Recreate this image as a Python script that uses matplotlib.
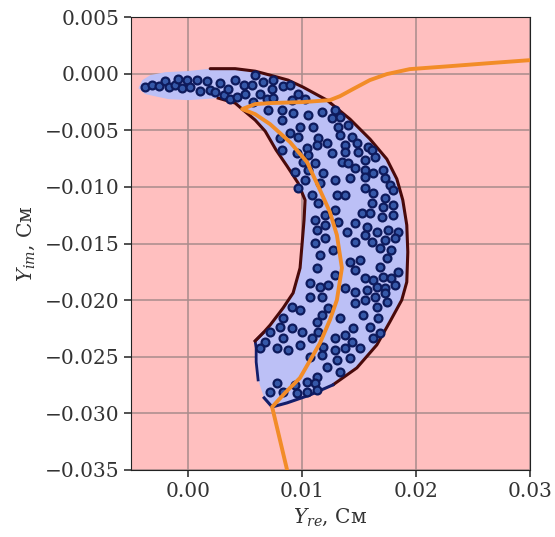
import numpy as np
import matplotlib
matplotlib.use("Agg")
import matplotlib.pyplot as plt
from matplotlib.ticker import FuncFormatter

plt.rcParams['font.family'] = ['DejaVu Serif']
plt.rcParams['mathtext.fontset'] = 'dejavuserif'

# ---- data (values in mS, i.e. 1e-3 См) ----
# crescent region: outer boundary, lower-left edge, inner boundary
outer_re = [-4.35, -4.0, -3.3, -1.99, 0.03, 1.95, 4.14, 5.89, 7.2, 8.78, 10.09, 12.19, 14.21,
            15.96, 17.44, 18.32, 18.84, 19.19, 19.28, 19.19, 18.75, 17.7, 16.56, 14.81, 12.71,
            10.7, 8.69, 7.38]
outer_im = [-1.27, -0.56, -0.12, 0.14, 0.24, 0.45, 0.45, 0.23, -0.12, -0.56, -1.18, -2.33, -4.01,
            -5.77, -7.54, -9.3, -11.16, -13.37, -15.75, -18.4, -19.99, -21.93, -23.96, -25.99,
            -27.49, -28.38, -29.08, -29.44]
left_re = [6.68, 6.15, 5.98, 5.98, 5.89, 6.59]
left_im = [-28.64, -27.05, -25.46, -24.23, -23.61, -22.9]
inner_re = [7.21, 8.34, 9.22, 9.83, 10.0, 10.18, 10.27, 9.66, 8.69, 7.73, 6.77, 5.89, 4.75, 4.14,
            2.65, 0.03, -1.72, -3.74]
inner_im = [-22.20, -20.70, -19.37, -17.16, -15.13, -12.92, -11.16, -9.66, -8.16, -6.74, -5.07,
            -4.09, -3.12, -2.59, -2.15, -2.33, -2.24, -1.80]

# orange locus
curve_re = [8.69, 7.38, 8.51, 9.82, 11.58, 12.45, 13.06, 13.5, 13.06, 12.45, 11.58, 10.44, 8.95,
            7.2, 5.89, 4.75, 5.89, 7.2, 10.09, 12.45, 13.33, 14.46, 15.95, 17.44, 19.45, 22.95,
            26.45, 29.95]
curve_im = [-35.0, -29.44, -28.2, -26.88, -23.79, -21.75, -19.99, -17.16, -14.25, -12.22, -10.28,
            -7.8, -6.04, -4.45, -3.57, -3.12, -2.68, -2.59, -2.5, -2.33, -1.98, -1.36, -0.56,
            -0.03, 0.41, 0.67, 0.94, 1.2]

# sample points
dot_re = [
    # tail
    -3.74, -3.15, -2.51, -2.05, -1.70, -1.17, -0.88, -0.53, -0.08, 0.20, 0.79, 1.08, 1.66, 1.95,
    2.39, 2.83, 3.12, 3.55, 3.71, 4.14, 4.29, 4.87, 5.01, 5.60, 5.74, 5.89, 6.33, 6.62, 6.91, 7.35,
    7.49, 8.32, 9.68, 8.95,
    # upper band
    7.49, 9.10, 10.27, 7.06, 8.23, 9.24, 10.56, 11.73, 12.89, 8.23, 12.60, 13.33, 9.83, 10.99,
    13.18, 14.06, 8.95, 9.68, 11.43, 13.33, 14.35, 8.08, 10.42, 11.29, 12.17, 13.77, 14.79, 15.81,
    8.23, 9.54, 10.56, 12.60, 13.77, 14.93, 16.10, 10.12, 11.14, 13.48, 14.06, 15.52, 16.39, 9.39,
    10.56, 11.87, 14.64, 15.52, 16.24, 17.12, 10.27, 11.58, 12.89, 14.21, 15.52, 17.27, 17.71,
    9.68, 15.52, 17.99,
    # middle band
    10.85, 11.43, 13.04, 13.77, 16.24, 17.27, 16.10, 17.12, 17.99, 12.02, 11.14, 12.89, 13.18,
    15.23, 15.96, 16.98, 17.99, 11.29, 12.02, 13.92, 14.64, 15.67, 16.54, 17.56, 18.43, 12.02,
    11.14, 14.64, 15.52, 16.10, 17.27, 18.14, 12.74, 11.58, 14.21, 15.08, 16.83, 17.85, 17.42,
    11.29, 12.89, 14.64, 15.52, 16.24, 16.83, 17.12, 17.85, 18.43, 10.71, 11.58, 12.31, 13.77,
    14.64, 15.67, 16.54, 17.27, 18.14, 10.71, 11.73, 16.39, 17.27,
    # lower band
    9.10, 12.31, 8.37, 9.10, 11.29, 11.73, 13.33, 14.64, 15.52, 16.54, 17.42, 7.21, 6.77, 8.37,
    9.83, 10.85, 11.43, 12.89, 13.77, 14.50, 15.37, 15.96, 16.68, 16.83, 16.24, 6.33, 7.79, 8.81,
    11.87, 12.89, 13.77, 14.35, 15.08, 10.71, 11.73, 13.04, 14.21, 12.17, 13.33, 11.29, 7.79,
    9.39, 10.42, 11.14, 7.21, 8.37, 9.54, 10.42, 11.29, 9.83, 9.98, 8.08]
dot_im = [
    # tail
    -1.18, -1.03, -1.09, -0.62, -1.18, -0.98, -0.45, -1.27, -0.59, -1.18, -0.59, -1.56, -0.68,
    -1.47, -1.62, -0.80, -1.91, -1.38, -2.21, -0.59, -2.06, -1.03, -1.77, -1.03, -2.50, -0.15,
    -1.77, -0.74, -2.21, -1.33,
    -0.59, -1.09, -1.77, -0.98,
    # upper band
    -2.18, -2.33, -2.24, -3.21, -3.21, -3.50, -3.65, -3.36, -3.21, -4.09, -3.94, -3.80, -4.69,
    -4.69, -4.69, -4.54, -5.27, -5.57, -5.71, -5.42, -5.57, -5.71, -6.59, -6.30, -6.15, -6.30,
    -6.15, -6.45, -6.74, -7.04, -7.19, -7.04, -6.90, -6.90, -6.74, -7.78, -7.92, -7.78, -7.92,
    -7.63, -7.34, -8.66, -8.51, -8.80, -8.36, -8.51, -8.80, -8.51, -9.39, -9.69, -9.39, -9.24,
    -9.10, -9.24, -9.83, -10.13, -10.13, -10.28,
    # middle band
    -10.72, -11.45, -10.72, -10.72, -10.57, -11.01, -11.45, -11.75, -11.60, -12.48, -12.92,
    -12.04, -13.08, -12.33, -12.33, -12.63, -12.48, -13.81, -13.37, -13.96, -13.22, -13.52,
    -13.96, -13.81, -13.96, -14.54, -14.98, -14.84, -14.25, -14.84, -14.69, -14.54, -15.57,
    -16.01, -16.61, -16.46, -15.42, -15.57, -16.31, -17.19, -17.78, -17.34, -18.07, -18.22,
    -17.05, -17.93, -18.07, -17.49, -18.52, -18.82, -18.67, -18.96, -19.26, -19.11, -18.82,
    -18.96, -18.67, -19.70, -19.70, -19.70, -19.40,
    # lower band
    -20.58, -20.72, -21.61, -22.49, -21.91, -21.31, -21.61, -20.28, -19.99, -20.58, -20.14,
    -22.79, -23.67, -23.37, -23.96, -23.37, -22.79, -23.37, -23.08, -22.49, -21.31, -22.35,
    -21.61, -22.90, -23.37, -24.25, -24.25, -24.40, -24.11, -24.40, -24.25, -23.67, -24.25,
    -25.00, -24.85, -25.29, -25.14, -25.88, -26.32, -26.76, -27.35, -27.50, -27.20, -27.35,
    -28.09, -28.09, -28.23, -28.09, -27.94, -20.87, -22.79, -22.37]

xticks = [0.00, 0.01, 0.02, 0.03]
yticks = [0.005, 0.000, -0.005, -0.010, -0.015, -0.020, -0.025, -0.030, -0.035]

mS = 1e-3
fig = plt.figure(figsize=(5.55, 5.37), dpi=100)
ax = fig.add_axes([0.236, 0.125, 0.719, 0.843])
ax.set_facecolor('#FFBFBF')

poly_re = np.array(outer_re + left_re + inner_re) * mS
poly_im = np.array(outer_im + left_im + inner_im) * mS
ax.fill(poly_re, poly_im, color='#BCC0F6', zorder=2, lw=0)

maroon = '#4A0A0A'
navy = '#141E6A'
ax.plot(np.array(outer_re[5:25]) * mS, np.array(outer_im[5:25]) * mS, color=maroon, lw=2.2,
        zorder=3, solid_capstyle='round')
ax.plot(np.array(outer_re[24:] + left_re[:1]) * mS, np.array(outer_im[24:] + left_im[:1]) * mS,
        color=navy, lw=2.2, zorder=3)
ax.plot(np.array(left_re[1:]) * mS, np.array(left_im[1:]) * mS, color=navy, lw=2.0, zorder=3)
ax.plot(np.array(left_re[-2:] + inner_re[:15]) * mS, np.array(left_im[-2:] + inner_im[:15]) * mS,
        color=maroon, lw=2.2, zorder=3)

ax.scatter(np.array(dot_re) * mS, np.array(dot_im) * mS, s=32, facecolor='#3558A8',
           edgecolor='#0E1A5C', linewidths=1.6, zorder=4)

ax.plot(np.array(curve_re) * mS, np.array(curve_im) * mS, color='#F28C28', lw=2.8, zorder=5)

ax.set_xlim(-0.005, 0.03)
ax.set_ylim(-0.035, 0.005)
ax.set_xticks(xticks)
ax.set_yticks(yticks)
ax.xaxis.set_major_formatter(FuncFormatter(lambda v, p: f'{v:.2f}'.replace('-', '\u2212')))
ax.yaxis.set_major_formatter(FuncFormatter(lambda v, p: f'{v:.3f}'.replace('-', '\u2212')))
ax.grid(True, color='#A88C8C', lw=1.1, zorder=1)
ax.set_axisbelow(True)
ax.tick_params(labelsize=14.5, labelcolor='#333333', length=5, width=1.1, color='#222222')
for s in ax.spines.values():
    s.set_color('#222222')
ax.set_xlabel('$Y_{re}$, См', fontsize=14.5, color='#333333', labelpad=4)
ax.set_ylabel('$Y_{im}$, См', fontsize=14.5, color='#333333', labelpad=5)

fig.savefig('out.png', dpi=100)
